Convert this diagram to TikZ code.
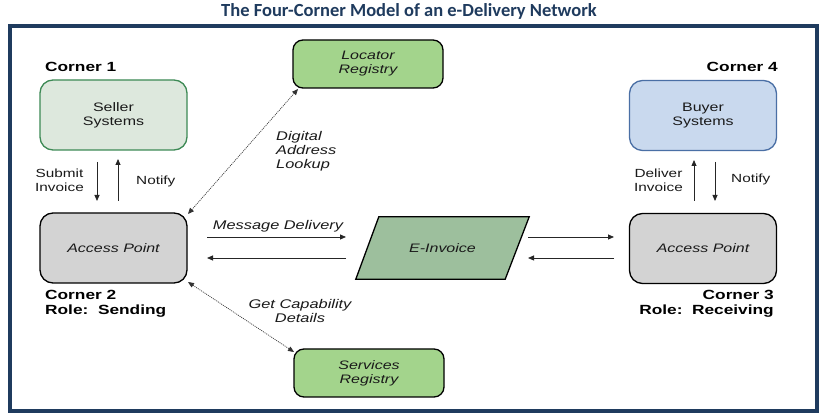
\documentclass[tikz,border=0pt]{standalone}
\usepackage{fontspec}
\setmainfont{Liberation Sans}[FakeStretch=1.3]
\newfontfamily\wide{Liberation Sans}[FakeStretch=1.3]
\newfontfamily\titlefont{Carlito}
\usetikzlibrary{arrows.meta,calc}
\definecolor{frameblue}{HTML}{1F3B5E}
\definecolor{sellerfill}{HTML}{DDE8DD}
\definecolor{sellerdraw}{HTML}{3D8A55}
\definecolor{buyerfill}{HTML}{C9D9EE}
\definecolor{buyerdraw}{HTML}{4A6FA5}
\definecolor{apfill}{HTML}{D3D3D3}
\definecolor{regfill}{HTML}{A3D48C}
\definecolor{invfill}{HTML}{9DBF9D}
\definecolor{txt}{HTML}{1A1A1A}
\tikzset{
  x=1pt,y=-1pt,
  sysbox/.style={rounded corners=13pt,line width=1.3pt,minimum width=147pt,minimum height=70pt,align=center,font=\wide\fontsize{12.3}{14}\selectfont,text=txt},
  regbox/.style={rounded corners=10pt,line width=1.3pt,draw=black,fill=regfill,minimum width=150pt,minimum height=48pt,align=center,font=\wide\fontsize{12.3}{14}\selectfont\itshape,text=txt},
  cornerlbl/.style={font=\wide\fontsize{13.3}{15}\selectfont\bfseries,text=black,inner sep=0pt},
  smalllbl/.style={font=\wide\fontsize{11.8}{14}\selectfont,text=txt,inner sep=0pt},
  itlbl/.style={font=\wide\fontsize{12.6}{14}\selectfont\itshape,text=txt,inner sep=0pt},
  arr/.style={-{Triangle[length=6pt,width=5pt]},line width=0.8pt,draw=black!85},
  dotarr/.style={{Triangle[length=6pt,width=5pt]}-{Triangle[length=6pt,width=5pt]},line width=0.7pt,dash pattern=on 1pt off 1pt,draw=black!80},
}
\begin{document}
\begin{tikzpicture}
\useasboundingbox (0,0) rectangle (825,419);
\fill[white] (0,0) rectangle (825,419);
\node[font=\titlefont\bfseries\fontsize{18.5}{20}\selectfont,text=frameblue] (title) at (409,11) {The Four-Corner Model of an e-Delivery Network};
\draw[frameblue,line width=4pt] (10,26) rectangle (817,411);

% corner boxes
\node[sysbox,draw=sellerdraw,fill=sellerfill] (seller) at (113.5,115) {Seller\\Systems};
\node[sysbox,draw=black,fill=apfill,font=\wide\fontsize{12.3}{14}\selectfont\itshape] (apl) at (113.5,248) {Access Point};
\node[sysbox,draw=buyerdraw,fill=buyerfill] (buyer) at (703,115.5) {Buyer\\Systems};
\node[sysbox,draw=black,fill=apfill,font=\wide\fontsize{12.3}{14}\selectfont\itshape] (apr) at (703,248.5) {Access Point};

\node[regbox] (loc) at (368,64) {Locator\\Registry};
\node[regbox] (srv) at (369,373) {Services\\Registry};

% e-invoice parallelogram
\node[inner sep=0pt,minimum width=173pt,minimum height=62pt] (inv) at (442.5,248) {};
\filldraw[draw=black,line width=1.3pt,fill=invfill,line join=miter]
  ($(inv.north west)+(23,0)$) -- (inv.north east) -- ($(inv.south east)+(-24,0)$) -- (inv.south west) -- cycle;
\node[font=\wide\fontsize{12.3}{14}\selectfont\itshape,text=txt] (invtxt) at (inv.center) {E-Invoice};

% corner labels
\node[cornerlbl,anchor=west] (c1) at (45,67) {Corner 1};
\node[cornerlbl,anchor=east] (c4) at (778,67) {Corner 4};
\node[cornerlbl,anchor=north west,align=left] (c2) at (45,290) {Corner 2\\Role:\ \ Sending};
\node[cornerlbl,anchor=north east,align=right] (c3) at (774,290) {Corner 3\\Role:\ \ Receiving};

% vertical arrows left
\coordinate (l1a) at (97,162); \coordinate (l1b) at (97,201);
\coordinate (l2a) at (118,201); \coordinate (l2b) at (118,159);
\draw[arr] (l1a) -- (l1b);
\draw[arr] (l2a) -- (l2b);
\node[smalllbl,anchor=east,align=center] (submit) at (84,180) {Submit\\Invoice};
\node[smalllbl,anchor=west] (notl) at (136,181) {Notify};

% vertical arrows right
\coordinate (r1a) at (694,201); \coordinate (r1b) at (694,160);
\coordinate (r2a) at (715,162); \coordinate (r2b) at (715,201);
\draw[arr] (r1a) -- (r1b);
\draw[arr] (r2a) -- (r2b);
\node[smalllbl,anchor=east,align=center] (deliver) at (683,180) {Deliver\\Invoice};
\node[smalllbl,anchor=west] (notr) at (731,179) {Notify};

% horizontal arrows
\coordinate (h1a) at (207,237); \coordinate (h1b) at (346,237);
\coordinate (h2a) at (346,258); \coordinate (h2b) at (207,258);
\coordinate (h3a) at (528,237); \coordinate (h3b) at (614,237);
\coordinate (h4a) at (614,258); \coordinate (h4b) at (528,258);
\draw[arr] (h1a) -- (h1b);
\draw[arr] (h2a) -- (h2b);
\draw[arr] (h3a) -- (h3b);
\draw[arr] (h4a) -- (h4b);
\node[itlbl] (msg) at (278,226) {Message Delivery};

% dotted lookups
\coordinate (dl1) at (298,89); \coordinate (dl2) at (188,214);
\coordinate (ds1) at (188,282); \coordinate (ds2) at (294,352);
\draw[dotarr] (dl1) -- (dl2);
\draw[dotarr] (ds1) -- (ds2);
\node[itlbl,anchor=north west,align=left] (dal) at (276,131) {Digital\\Address\\Lookup};
\node[itlbl,align=center] (gcd) at (300,311) {Get Capability\\Details};
\end{tikzpicture}
\end{document}
